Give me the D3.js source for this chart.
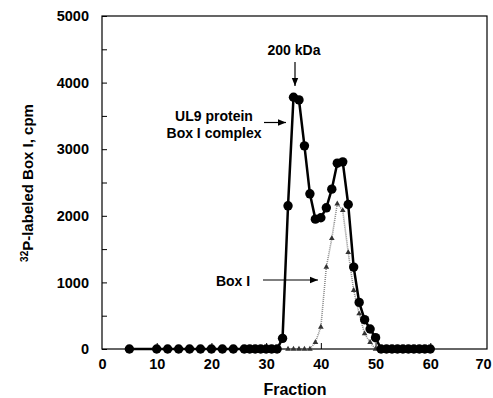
<!doctype html>
<html lang="en">
<head>
    <meta charset="utf-8">
    <title>UL9 protein / Box I fractions</title>
    <style>
        body { margin: 0; background: #fff; }
        svg text { font-family: "Liberation Sans", Arial, Helvetica, sans-serif; font-weight: bold; }
    </style>
</head>
<body>
<div id="chart"></div>
<script src="https://d3js.org/d3.v7.min.js"></script>
<script>
    // complex (black circles)
    var complexFractions = [5, 10, 12, 14, 16, 18, 20, 22, 24, 26, 27, 28, 29, 30, 31, 32,
        33, 34, 35, 36, 37, 38, 39, 40, 41, 42, 43, 44, 45, 46, 47, 48, 49, 50,
        51, 52, 53, 54, 55, 56, 57, 58, 59, 60];
    var complexCpm = [0, 0, 0, 0, 0, 0, 0, 0, 0, 0, 0, 0, 0, 0, 0, 0,
        160, 2150, 3780, 3740, 3050, 2330, 1950, 1970, 2120, 2400, 2790, 2810, 2170, 1230, 700, 440, 300, 170,
        0, 0, 0, 0, 0, 0, 0, 0, 0, 0];

    // free Box I (grey triangles)
    var boxFractions = [34, 35, 36, 37, 38, 39, 40, 41, 42, 43, 44, 45, 46, 47, 48, 49, 50];
    var boxCpm = [0, 0, 0, 0, 0, 100, 330, 1230, 1660, 2180, 2080, 1450, 880, 530, 230, 100, 0];

    var xTicks = [0, 10, 20, 30, 40, 50, 60, 70];
    var yTicks = [0, 1000, 2000, 3000, 4000, 5000];

    var width = 493, height = 398;
    var svg = d3.select("#chart").append("svg")
        .attr("width", width)
        .attr("height", height);

    var x = d3.scaleLinear().domain([0, 70]).range([102, 485]);
    var y = d3.scaleLinear().domain([0, 5000]).range([349, 16]);

    // frame
    svg.append("rect")
        .attr("x", 102).attr("y", 16)
        .attr("width", 385).attr("height", 333)
        .attr("fill", "none").attr("stroke", "#000").attr("stroke-width", 1.2);

    // y axis, ticks inside
    var yAxis = d3.axisLeft(y).tickValues(d3.range(0, 5001, 500)).tickSize(-5).tickPadding(13)
        .tickFormat(function (d) { return yTicks.indexOf(d) >= 0 ? d : ""; });
    var gy = svg.append("g").attr("transform", "translate(102,0)").call(yAxis);
    gy.select(".domain").remove();
    gy.selectAll("text").style("font-size", "14.5px").attr("fill", "#000");

    // x axis, ticks inside
    var xAxis = d3.axisBottom(x).tickValues(xTicks).tickSize(-6).tickPadding(10);
    var gx = svg.append("g").attr("transform", "translate(0,349)").call(xAxis);
    gx.select(".domain").remove();
    gx.selectAll(".tick line").filter(function (d) { return d === 0 || d === 70; }).remove();
    gx.selectAll("text").style("font-size", "14.5px").attr("fill", "#000");
    // keep the last label inside the window
    gx.selectAll("text").filter(function (d) { return d === 70; }).attr("dx", "-2");

    // axis titles
    svg.append("text")
        .attr("x", 295).attr("y", 395)
        .attr("text-anchor", "middle")
        .style("font-size", "16px")
        .text("Fraction");

    var yt = svg.append("text")
        .attr("transform", "translate(33,183) rotate(-90)")
        .attr("text-anchor", "middle")
        .style("font-size", "15px");
    yt.append("tspan").attr("dy", "-5").style("font-size", "10px").text("32");
    yt.append("tspan").attr("dy", "5").text("P-labeled Box I, cpm");

    // lines
    var boxData = boxFractions.map(function (f, i) { return { f: f, v: boxCpm[i] }; });
    var complexData = complexFractions.map(function (f, i) { return { f: f, v: complexCpm[i] }; });
    var line = d3.line().x(function (d) { return x(d.f); }).y(function (d) { return y(d.v); });

    svg.append("path").datum(boxData)
        .attr("d", line)
        .attr("fill", "none")
        .attr("stroke", "#8a8a8a")
        .attr("stroke-width", 1.6)
        .attr("stroke-dasharray", "1,1");

    svg.append("path").datum(complexData)
        .attr("d", line)
        .attr("fill", "none")
        .attr("stroke", "#000")
        .attr("stroke-width", 2.5);

    svg.selectAll(".tri").data(boxData).enter().append("path")
        .attr("class", "tri")
        .attr("transform", function (d) { return "translate(" + x(d.f) + "," + y(d.v) + ")"; })
        .attr("d", d3.symbol().type(d3.symbolTriangle).size(14))
        .attr("fill", "#333");

    svg.selectAll(".dot").data(complexData).enter().append("circle")
        .attr("class", "dot")
        .attr("cx", function (d) { return x(d.f); })
        .attr("cy", function (d) { return y(d.v); })
        .attr("r", 4.7)
        .attr("fill", "#000");

    // annotations
    svg.append("defs").append("marker")
        .attr("id", "head")
        .attr("viewBox", "0 0 10 10")
        .attr("refX", 10).attr("refY", 5)
        .attr("markerWidth", 7).attr("markerHeight", 7)
        .attr("orient", "auto-start-reverse")
        .append("path").attr("d", "M0,1 L10,5 L0,9 Z").attr("fill", "#000");

    function note(lines, tx, ty, x1, y1, x2, y2) {
        var t = svg.append("text").attr("text-anchor", "middle").style("font-size", "14px");
        lines.forEach(function (s, i) {
            t.append("tspan").attr("x", tx).attr("y", ty + i * 17).text(s);
        });
        svg.append("line")
            .attr("x1", x1).attr("y1", y1).attr("x2", x2).attr("y2", y2)
            .attr("stroke", "#000").attr("stroke-width", 1.2)
            .attr("marker-end", "url(#head)");
    }

    note(["200 kDa"], 294, 55, 295, 62, 295, 86);
    note(["UL9 protein", "Box I complex"], 214, 121, 264, 122.5, 286, 122.5);
    note(["Box I"], 233, 286, 263, 280, 318, 280);
</script>
</body>
</html>
